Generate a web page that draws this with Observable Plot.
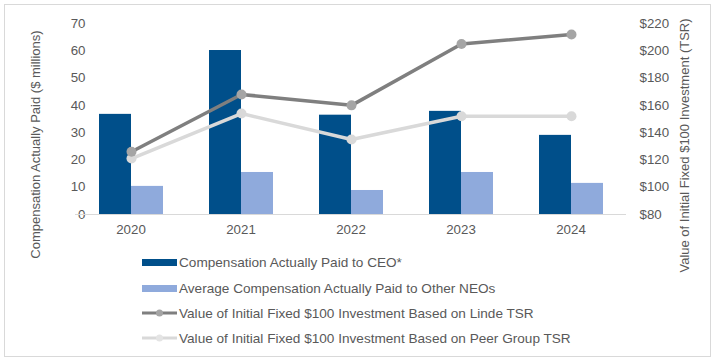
<!DOCTYPE html>
<html>
<head>
<meta charset="utf-8">
<script src="https://cdn.jsdelivr.net/npm/d3@7"></script>
<script src="https://cdn.jsdelivr.net/npm/@observablehq/plot@0.6"></script>
<style>
  html, body { margin: 0; padding: 0; background: #ffffff; }
  #wrap { position: relative; width: 716px; height: 362px; overflow: hidden; font-family: "Liberation Sans", Arial, sans-serif; color: #595959; }
  #frame { position: absolute; left: 4px; top: 4px; width: 707px; height: 353px; border: 1px solid #d9d9d9; box-sizing: border-box; }
  .layer { position: absolute; left: 0; top: 0; }
  .ytitle { position: absolute; font-size: 13px; white-space: nowrap; transform-origin: center center; }
  .leg { position: absolute; left: 142px; height: 16px; display: flex; align-items: center; font-size: 13.6px; white-space: nowrap; }
  .leg svg { display: block; margin-right: 1px; }
</style>
</head>
<body>
<div id="wrap">
  <div id="frame"></div>
  <div id="bars" class="layer"></div>
  <div id="lines" class="layer"></div>
  <div id="titles"></div>
  <div id="legend"></div>
</div>
<script>
// ---- data ----
const years = ["2020", "2021", "2022", "2023", "2024"];
const ceoCAP = [36.7, 60.1, 36.4, 37.8, 29.0];
const neoCAP = [10.3, 15.4, 8.8, 15.4, 11.4];
const lindeTSR = [126, 168, 160, 205, 212];
const peerTSR = [121, 154, 135, 152, 152];
const capTicks = [0, 10, 20, 30, 40, 50, 60, 70];
const tsrTicks = [80, 100, 120, 140, 160, 180, 200, 220];
const seriesNames = [
  "Compensation Actually Paid to CEO*",
  "Average Compensation Actually Paid to Other NEOs",
  "Value of Initial Fixed $100 Investment Based on Linde TSR",
  "Value of Initial Fixed $100 Investment Based on Peer Group TSR"
];
const leftTitle = "Compensation Actually Paid ($ millions)";
const rightTitle = "Value of Initial Fixed $100 Investment (TSR)";

const colCEO = "#004f8a", colNEO = "#8faadc", colLinde = "#7f7f7f", colLindeDot = "#a5a5a5", colPeer = "#d9d9d9";

const barData = [];
years.forEach((y, i) => {
  barData.push({year: y, series: seriesNames[0], value: ceoCAP[i]});
  barData.push({year: y, series: seriesNames[1], value: neoCAP[i]});
});
const lindeData = years.map((y, i) => ({year: y, value: lindeTSR[i]}));
const peerData = years.map((y, i) => ({year: y, value: peerTSR[i]}));

const W = 716, H = 240;
const common = {
  width: W, height: H, marginLeft: 75, marginRight: 90, marginTop: 23, marginBottom: 26,
  style: {fontFamily: "'Liberation Sans', Arial, sans-serif", fontSize: "13.3px", color: "#595959", background: "transparent", overflow: "visible", maxWidth: "none"}
};

const p1 = Plot.plot({
  ...common,
  fx: {domain: years, paddingInner: 0.41, paddingOuter: 0.205, label: null, axis: "bottom", tickSize: 0, tickPadding: 10},
  x: {domain: seriesNames.slice(0, 2), padding: 0, axis: null},
  y: {domain: [0, 70], ticks: capTicks, tickSize: 0, tickPadding: 13, label: null},
  color: {domain: seriesNames.slice(0, 2), range: [colCEO, colNEO]},
  marks: [
    Plot.barY(barData, {fx: "year", x: "series", y: "value", fill: "series"})
  ]
});
document.getElementById("bars").appendChild(p1);

const p2 = Plot.plot({
  ...common,
  x: {type: "point", domain: years, padding: 0.5, axis: null},
  y: {domain: [80, 220], ticks: tsrTicks, tickFormat: d => "$" + d, axis: "right", tickSize: 0, tickPadding: 13, label: null},
  marks: [
    Plot.ruleY([80], {stroke: "#d9d9d9", strokeWidth: 1}),
    Plot.line(peerData, {x: "year", y: "value", stroke: colPeer, strokeWidth: 3.5}),
    Plot.dot(peerData, {x: "year", y: "value", r: 5, fill: colPeer}),
    Plot.line(lindeData, {x: "year", y: "value", stroke: colLinde, strokeWidth: 3.5}),
    Plot.dot(lindeData, {x: "year", y: "value", r: 5, fill: colLindeDot})
  ]
});
document.getElementById("lines").appendChild(p2);

// ---- axis titles ----
const titles = document.getElementById("titles");
function addTitle(text, cx, cy) {
  const d = document.createElement("div");
  d.className = "ytitle";
  d.textContent = text;
  titles.appendChild(d);
  const w = d.offsetWidth, h = d.offsetHeight;
  d.style.left = (cx - w / 2) + "px";
  d.style.top = (cy - h / 2) + "px";
  d.style.transform = "rotate(-90deg)";
}
addTitle(leftTitle, 35, 144);
addTitle(rightTitle, 684, 145);

// ---- legend ----
const legend = document.getElementById("legend");
const rowsY = [262, 288, 313, 338];
const swatches = [
  `<svg width="36" height="10"><rect x="0" y="2" width="35" height="7" fill="${colCEO}"/></svg>`,
  `<svg width="36" height="10"><rect x="0" y="2" width="35" height="7" fill="${colNEO}"/></svg>`,
  `<svg width="36" height="10"><line x1="0" x2="35" y1="5" y2="5" stroke="${colLinde}" stroke-width="3"/><circle cx="17.5" cy="5" r="3.5" fill="${colLindeDot}"/></svg>`,
  `<svg width="36" height="10"><line x1="0" x2="35" y1="5" y2="5" stroke="${colPeer}" stroke-width="3"/><circle cx="17.5" cy="5" r="3.5" fill="#e4e4e4"/></svg>`
];
seriesNames.forEach((name, i) => {
  const row = document.createElement("div");
  row.className = "leg";
  row.style.top = (rowsY[i] - 8) + "px";
  row.innerHTML = swatches[i] + `<span>${name.replace(/\$/g, "&#36;")}</span>`;
  legend.appendChild(row);
});
</script>
</body>
</html>
